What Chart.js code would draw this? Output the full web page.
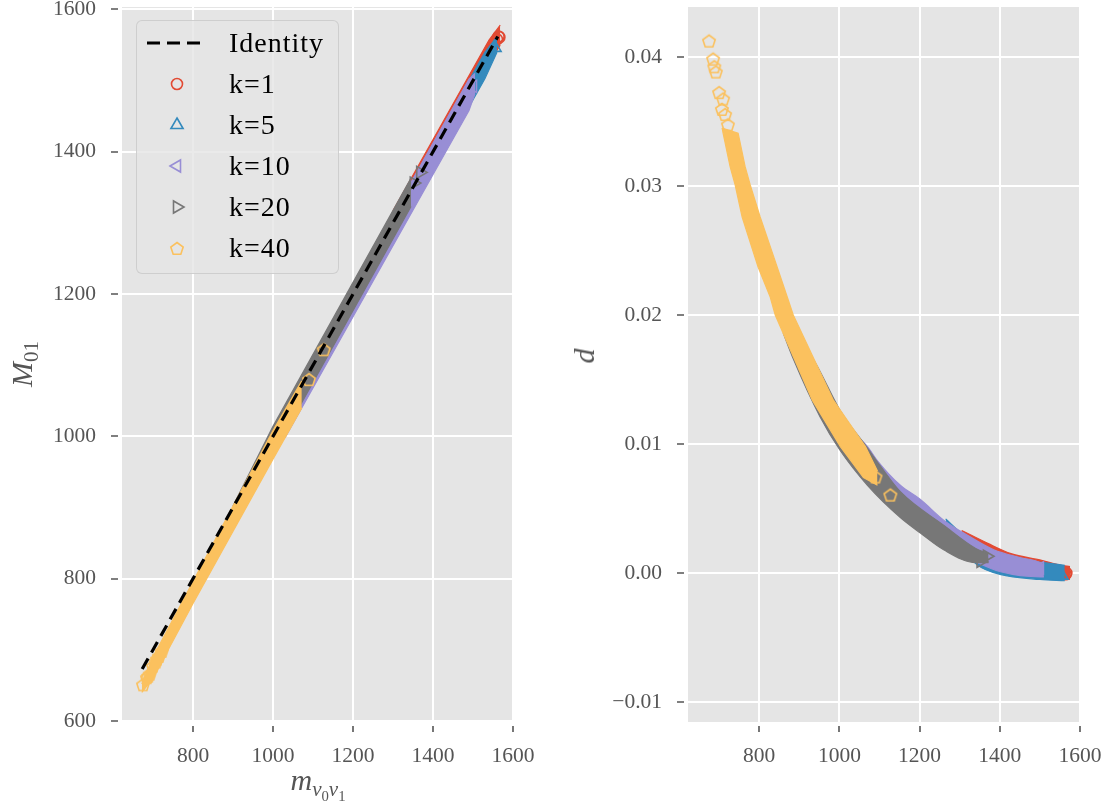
<!DOCTYPE html>
<html>
<head>
<meta charset="utf-8">
<script src="https://cdn.jsdelivr.net/npm/chart.js@4.4.1/dist/chart.umd.min.js"></script>
<style>
  html, body { margin: 0; padding: 0; background: #fff; }
  #wrap { position: relative; width: 1111px; height: 805px; overflow: hidden; font-family: 'Liberation Serif', serif; }
  canvas { position: absolute; }
  .lab { position: absolute; color: #555; font-size: 30px; line-height: 1; white-space: nowrap; }
  .lab .s { position: relative; top: 0.3em; font-size: 70%; }
  #legend { position: absolute; left: 136px; top: 20px; width: 203px; height: 254px; box-sizing: border-box;
            background: rgba(229,229,229,0.8); border: 1px solid rgba(200,200,200,0.8); border-radius: 6px; }
  #legend svg { position: absolute; left: 10px; }
  #legend span { position: absolute; left: 92px; font-size: 28px; letter-spacing: 1px; line-height: 1; color: #000; }
</style>
</head>
<body>
<div id="wrap">
  <canvas id="left" width="560" height="845" style="left:0px;top:-40px"></canvas>
  <canvas id="right" width="600" height="845" style="left:540px;top:-40px"></canvas>
  <div id="legend"></div>
  <div class="lab" id="ylabL" style="left:22px;top:364px;transform:translate(-50%,-50%) rotate(-90deg)"><i>M</i><span class="s">01</span></div>
  <div class="lab" id="xlabL" style="left:318px;top:765px;transform:translateX(-50%)"><i>m</i><span class="s"><i>v</i><span class="s">0</span><i>v</i><span class="s">1</span></span></div>
  <div class="lab" id="ylabR" style="left:584px;top:356px;transform:translate(-50%,-50%) rotate(-90deg)"><i>d</i></div>
</div>
<script>
// axes
const xTicks = [800, 1000, 1200, 1400, 1600];
const leftYTicks = [600, 800, 1000, 1200, 1400, 1600];
const rightYTicks = [-0.01, 0, 0.01, 0.02, 0.03, 0.04];
const legendNames = ['Identity', 'k=1', 'k=5', 'k=10', 'k=20', 'k=40'];

// identity line (M01 = m)
const identityM = [673, 1562];

// individual markers: m, M01, d
const k1_m = [1560, 1564, 1566];
const k1_M = [1558, 1562, 1561];
const k1_d = [0.0001, -0.0001, 0.0000];
const k5_m = [1555];
const k5_M = [1546];
const k5_d = [-0.0002];
const k10_m = [1500];
const k10_M = [1492];
const k10_d = [0.0004];
const k20_m = [1352, 1368];
const k20_M = [1356, 1371];
const k20_d = [0.0009, 0.0013];
const k40_m = [675, 685, 688, 692, 700, 707, 710, 715, 722, 1090, 1127];
const k40_M = [650, 660, 662, 665, 676, 682, 686, 690, 697, 1079, 1121];
const k40_d = [0.0412, 0.0398, 0.0392, 0.0388, 0.0372, 0.0359, 0.0367, 0.0355, 0.0347, 0.0074, 0.0060];

// dense point clouds, left panel: outline of the band (upper / lower M01 at m)
const k1_Lm = [1300, 1540, 1568];
const k1_Lhi = [1317, 1557, 1578];
const k1_Llo = [1285, 1525, 1550];
const k5_Lm = [1265, 1530, 1560];
const k5_Lhi = [1275, 1540, 1562];
const k5_Llo = [1238, 1503, 1540];
const k10_Lm = [1030, 1490, 1505];
const k10_Lhi = [1042, 1502, 1510];
const k10_Llo = [998, 1458, 1482];
const k20_Lm = [900, 1000, 1345];
const k20_Lhi = [902, 1014, 1363];
const k20_Llo = [870, 975, 1323];
const k40_Lm = [672, 700, 800, 1000, 1072];
const k40_Lhi = [652, 690, 796, 1008, 1078];
const k40_Llo = [640, 660, 765, 968, 1040];

// dense point clouds, right panel: outline of the band (upper and lower edge of d)
const k1_RhiM = [1305, 1370, 1428, 1502, 1552, 1575];
const k1_RhiD = [0.0033, 0.0023, 0.0015, 0.0010, 0.0006, 0.0005];
const k1_RloM = [1305, 1400, 1500, 1575];
const k1_RloD = [0.0026, 0.0006, -0.0001, -0.0005];
const k5_RhiM = [1265, 1345, 1450, 1510, 1562];
const k5_RhiD = [0.0042, 0.0020, 0.0010, 0.0008, 0.0006];
const k5_RloM = [1265, 1345, 1400, 1500, 1562];
const k5_RloD = [0.0032, 0.0006, -0.0001, -0.0005, -0.0006];
const k10_RhiM = [1030, 1070, 1095, 1152, 1202, 1260, 1310, 1385, 1450, 1502, 1510];
const k10_RhiD = [0.0110, 0.0098, 0.0087, 0.0068, 0.0057, 0.0041, 0.0031, 0.0018, 0.0012, 0.0008, 0.0006];
const k10_RloM = [1030, 1152, 1260, 1345, 1402, 1502, 1510];
const k10_RloD = [0.0100, 0.0050, 0.0022, 0.0008, 0.0001, -0.0003, -0.0003];
const k20_RhiM = [860, 940, 1002, 1072, 1102, 1152, 1260, 1340, 1372];
const k20_RhiD = [0.0200, 0.0163, 0.0126, 0.0096, 0.0083, 0.0063, 0.0037, 0.0019, 0.0015];
const k20_RloM = [860, 885, 952, 1002, 1070, 1152, 1202, 1260, 1340, 1372];
const k20_RloD = [0.0186, 0.0166, 0.0121, 0.0095, 0.0068, 0.0043, 0.0031, 0.0018, 0.0008, 0.0008];
const k40_RhiM = [707.5, 747.5, 765, 777.5, 802.5, 845, 870, 885, 985, 1065, 1095];
const k40_RhiD = [0.0345, 0.0341, 0.0315, 0.0301, 0.0276, 0.0237, 0.0214, 0.0200, 0.0134, 0.0098, 0.0079];
const k40_RloM = [707.5, 710, 727.5, 740, 757.5, 797.5, 827.5, 840, 932.5, 1002.5, 1060, 1095];
const k40_RloD = [0.0345, 0.0341, 0.0315, 0.0301, 0.0276, 0.0237, 0.0214, 0.0200, 0.0134, 0.0098, 0.0074, 0.0068];

const FONT = 'Liberation Serif';
const pts = (xs, ys) => xs.map((x, i) => ({ x, y: ys[i] }));

function pentagon(color) {
  const c = document.createElement('canvas');
  c.width = c.height = 18;
  const g = c.getContext('2d');
  g.strokeStyle = color;
  g.lineWidth = 1.6;
  g.beginPath();
  for (let i = 0; i < 5; i++) {
    const a = -Math.PI / 2 + i * 2 * Math.PI / 5;
    const px = 9 + 6.5 * Math.cos(a), py = 9 + 6.5 * Math.sin(a);
    if (i) g.lineTo(px, py); else g.moveTo(px, py);
  }
  g.closePath();
  g.stroke();
  return c;
}

// ggplot colours; lower order is drawn on top
const series = [
  { color: '#E24A33', style: 'circle', rot: 0, r: 5.5, order: 5, smooth: true },
  { color: '#348ABD', style: 'triangle', rot: 0, r: 7, order: 4, smooth: true },
  { color: '#988ED5', style: 'triangle', rot: -90, r: 7, order: 3, smooth: true },
  { color: '#777777', style: 'triangle', rot: 90, r: 7, order: 2, smooth: true },
  { color: '#FBC15E', style: pentagon('#FBC15E'), rot: 0, r: 6.5, order: 1, smooth: false }
];

function addBand(list, s, mHi, yHi, mLo, yLo, smooth) {
  const mode = smooth ? 'monotone' : 'default';
  const lo = list.length;
  list.push({ data: pts(mLo, yLo), borderColor: s.color, borderWidth: 1.2, pointRadius: 0,
              fill: false, order: s.order, cubicInterpolationMode: mode, tension: 0 });
  list.push({ data: pts(mHi, yHi), borderColor: s.color, backgroundColor: s.color, borderWidth: 1.2,
              pointRadius: 0, fill: lo, order: s.order, cubicInterpolationMode: mode, tension: 0 });
}

function addMarkers(list, s, m, y) {
  list.push({ data: pts(m, y), showLine: false, fill: false, pointStyle: s.style, pointRotation: s.rot,
              pointRadius: s.r, pointBorderColor: s.color, pointBackgroundColor: 'rgba(0,0,0,0)',
              pointBorderWidth: 1.6, order: s.order });
}

const leftSets = [{
  data: pts(identityM, identityM), borderColor: '#000', borderWidth: 3.2, borderDash: [12, 7],
  pointRadius: 0, fill: false, order: 0
}];
const leftBands = [[k1_Lm, k1_Lhi, k1_Llo], [k5_Lm, k5_Lhi, k5_Llo], [k10_Lm, k10_Lhi, k10_Llo],
                   [k20_Lm, k20_Lhi, k20_Llo], [k40_Lm, k40_Lhi, k40_Llo]];
const leftMarks = [[k1_m, k1_M], [k5_m, k5_M], [k10_m, k10_M], [k20_m, k20_M], [k40_m, k40_M]];
series.forEach((s, i) => {
  const b = leftBands[i];
  addBand(leftSets, s, b[0], b[1], b[0], b[2], false);
  addMarkers(leftSets, s, leftMarks[i][0], leftMarks[i][1]);
});

const rightSets = [];
const rightBands = [[k1_RhiM, k1_RhiD, k1_RloM, k1_RloD], [k5_RhiM, k5_RhiD, k5_RloM, k5_RloD],
                    [k10_RhiM, k10_RhiD, k10_RloM, k10_RloD], [k20_RhiM, k20_RhiD, k20_RloM, k20_RloD],
                    [k40_RhiM, k40_RhiD, k40_RloM, k40_RloD]];
const rightMarks = [[k1_m, k1_d], [k5_m, k5_d], [k10_m, k10_d], [k20_m, k20_d], [k40_m, k40_d]];
series.forEach((s, i) => {
  const b = rightBands[i];
  addBand(rightSets, s, b[0], b[1], b[2], b[3], s.smooth);
  addMarkers(rightSets, s, rightMarks[i][0], rightMarks[i][1]);
});

const panelBg = {
  id: 'panelBg',
  beforeDraw(chart) {
    const { ctx, chartArea: a } = chart;
    ctx.save();
    ctx.fillStyle = '#E5E5E5';
    ctx.fillRect(a.left, a.top, a.right - a.left, a.bottom - a.top);
    ctx.restore();
  }
};

// matplotlib-style outward ticks, a little away from the axes box
const tickMarks = {
  id: 'tickMarks',
  afterDraw(chart) {
    const { ctx, chartArea: a, scales: { x, y } } = chart;
    ctx.save();
    ctx.strokeStyle = '#555';
    ctx.lineWidth = 1.6;
    ctx.beginPath();
    x.ticks.forEach(t => {
      const px = Math.round(x.getPixelForValue(t.value));
      ctx.moveTo(px, a.bottom + 4); ctx.lineTo(px, a.bottom + 10);
    });
    y.ticks.forEach(t => {
      const py = Math.round(y.getPixelForValue(t.value));
      ctx.moveTo(a.left - 4, py); ctx.lineTo(a.left - 11, py);
    });
    ctx.stroke();
    ctx.restore();
  }
};

function makeChart(id, datasets, yMin, yMax, yTicks, yFmt, yWidth, padRight) {
  const grid = { color: '#fff', lineWidth: 2, drawTicks: false };
  const tickFont = { family: FONT, size: 21.5 };
  return new Chart(document.getElementById(id), {
    type: 'line',
    data: { datasets },
    options: {
      responsive: false,
      maintainAspectRatio: false,
      animation: false,
      events: [],
      layout: { padding: { left: 0, top: 47, right: padRight, bottom: 0 } },
      plugins: { legend: { display: false }, tooltip: { enabled: false } },
      scales: {
        x: {
          type: 'linear', min: 622.5, max: 1602.5,
          afterBuildTicks: s => { s.ticks = xTicks.map(v => ({ value: v })); },
          afterFit: s => { s.height = 83; },
          grid, border: { display: false },
          ticks: { color: '#555', font: tickFont, padding: 21, maxRotation: 0, autoSkip: false,
                   callback: v => String(v) }
        },
        y: {
          type: 'linear', min: yMin, max: yMax,
          afterBuildTicks: s => { s.ticks = yTicks.map(v => ({ value: v })); },
          afterFit: s => { s.width = yWidth; },
          grid, border: { display: false },
          ticks: { color: '#555', font: tickFont, padding: 26, autoSkip: false, callback: yFmt }
        }
      }
    },
    plugins: [panelBg, tickMarks]
  });
}

makeChart('left', leftSets, 598.5, 1603.5, leftYTicks, v => String(v), 122, 46);
makeChart('right', rightSets, -0.01155, 0.04388, rightYTicks,
          v => (v < 0 ? '\u2212' : '') + Math.abs(v).toFixed(2), 148, 59);

// legend (inside the left axes)
function tri(color, rot) {
  return `<polygon points="30,3 36.06,13.5 23.94,13.5" transform="rotate(${rot} 30 10)" fill="none" stroke="${color}" stroke-width="1.6"/>`;
}
function pent(color) {
  const p = [];
  for (let i = 0; i < 5; i++) {
    const a = -Math.PI / 2 + i * 2 * Math.PI / 5;
    p.push((30 + 6.5 * Math.cos(a)).toFixed(2) + ',' + (10 + 6.5 * Math.sin(a)).toFixed(2));
  }
  return `<polygon points="${p.join(' ')}" fill="none" stroke="${color}" stroke-width="1.6"/>`;
}
const legendMarks = [
  '<line x1="0" y1="10" x2="54" y2="10" stroke="#000" stroke-width="3.2" stroke-dasharray="13 7"/>',
  '<circle cx="30" cy="10" r="5.5" fill="none" stroke="#E24A33" stroke-width="1.6"/>',
  tri('#348ABD', 0), tri('#988ED5', -90), tri('#777777', 90), pent('#FBC15E')
];
const legendEl = document.getElementById('legend');
legendEl.innerHTML = legendNames.map((name, i) =>
  `<svg width="56" height="20" style="top:${(11.5 + 41.2 * i).toFixed(1)}px">${legendMarks[i]}</svg>` +
  `<span style="top:${(7.8 + 41 * i).toFixed(1)}px">${name}</span>`
).join('');
</script>
</body>
</html>
